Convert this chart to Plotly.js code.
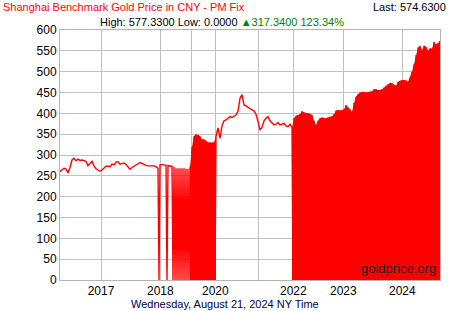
<!DOCTYPE html>
<html>
<head>
<meta charset="utf-8">
<script src="https://cdn.plot.ly/plotly-3.0.1.min.js"></script>
<style>html,body{margin:0;padding:0;background:#fff;}#chart{width:450px;height:311px;}</style>
</head>
<body>
<div id="chart"></div>
<script>
// Daily PM fix prices (CNY/gram), sampled evenly along the chart's point sequence
const prices = [
260,265,268,266,257,270,288,292,286,290,287,288,287,285,274,280,285,274,267,264,
261,264,268,273,273,272,278,276,283,284,278,280,281,277,270,266,270,273,274,278,
282,280,277,275,274,274,274,274,272,268,277,277,276,275,275,273,273,272,268,268,
268,268,268,267,267,272,320,345,350,348,345,338,337,334,330,330,330,330,345,365,
340,370,382,384,388,392,390,394,396,405,436,445,420,418,414,412,408,406,398,380,
360,366,382,388,392,382,378,372,374,378,372,374,376,370,368,374,366,388,394,396,
398,405,402,400,401,399,396,382,372,382,388,390,389,388,390,392,393,398,407,408,
407,408,410,420,414,410,404,425,440,446,450,451,452,450,451,452,453,458,458,456,
456,458,462,467,470,473,472,468,466,476,478,480,480,479,476,486,500,518,540,558,
562,552,562,560,550,556,555,572,566,568,574
];
// Spans of sample positions after which a 0.0000 fix was recorded
const zeroSpans = [[49,49],[53,53],[56,57],[58,58],[59,59],[60,60],[61,62],[63,64],[65,77],[116,189]];
// Year tick positions along the point sequence
const tickPos = [20.5,50.15,65.85,77.65,99.15,116.65,141.65,171.15];
const tickText = ['2017','2018','','2020','','2022','2023','2024'];

const titleText = 'Shanghai Benchmark Gold Price in CNY - PM Fix';
const lastText = 'Last: 574.6300';
const high = '577.3300', low = '0.0000', change = '317.3400', pct = '123.34%';
const dateText = 'Wednesday, August 21, 2024 NY Time';

const zeroSet = new Set();
zeroSpans.forEach(([a,b]) => { for (let k=a;k<=b;k++) zeroSet.add(k); });
const xs = [], ys = [];
prices.forEach((v,i) => {
  xs.push(i); ys.push(v);
  if (zeroSet.has(i)) { xs.push(i+0.5); ys.push(0); }
});

// Runs of consecutive zero readings appear as solid red areas down to 0
const fillTraces = zeroSpans.filter(([a,b]) => b - a >= 3).map(([a,b]) => {
  const fx = [], fy = [];
  for (let k=a;k<=b+1 && k<prices.length;k++) { fx.push(k); fy.push(prices[k]); }
  return {x: fx, y: fy, type: 'scatter', mode: 'lines', fill: 'tozeroy',
    fillcolor: '#ff0000', line: {color: '#ff0000', width: 0}, hoverinfo: 'skip'};
});

const F = 'Liberation Sans';
const trace = {x: xs, y: ys, type: 'scatter', mode: 'lines',
  line: {color: '#ff0000', width: 1.4}, hoverinfo: 'skip'};

const layout = {
  width: 450, height: 311,
  margin: {l: 60, r: 10, t: 30, b: 31, pad: 0},
  paper_bgcolor: '#ffffff', plot_bgcolor: '#ffffff',
  showlegend: false,
  font: {family: F, size: 11, color: '#000'},
  xaxis: {range: [0, prices.length-1], tickmode: 'array', tickvals: tickPos, ticktext: tickText,
    showgrid: true, gridcolor: '#c0c0c0', gridwidth: 1, zeroline: false,
    showline: true, mirror: true, linecolor: '#b4b4b4', linewidth: 1,
    ticks: '', tickfont: {family: F, size: 12, color: '#000'}, fixedrange: true},
  yaxis: {range: [0, 600], dtick: 50, tick0: 0,
    showgrid: true, gridcolor: '#c0c0c0', gridwidth: 1, zeroline: false,
    showline: true, mirror: true, linecolor: '#b4b4b4', linewidth: 1,
    ticks: '', ticklabelstandoff: 0, tickfont: {family: F, size: 12, color: '#000'}, fixedrange: true},
  annotations: [
    {text: titleText, xref: 'paper', yref: 'paper', x: -60/380, y: 1+30/250, xanchor: 'left', yanchor: 'top',
      xshift: 1, yshift: 1, showarrow: false, font: {family: F, size: 11, color: '#ff0000'}},
    {text: lastText, xref: 'paper', yref: 'paper', x: 1+8/380, y: 1+30/250, xanchor: 'right', yanchor: 'top',
      yshift: 1, showarrow: false, font: {family: F, size: 11, color: '#000'}},
    {text: 'High: ' + high + ' Low: ' + low + ' <span style="color:#008000">\u25B2' + change + ' ' + pct + '</span>',
      xref: 'paper', yref: 'paper', x: 38/380, y: 1+15/250, xanchor: 'left', yanchor: 'top',
      yshift: 1, showarrow: false, font: {family: F, size: 11, color: '#000'}},
    {text: dateText, xref: 'paper', yref: 'paper', x: (225-60)/380, y: -24/250, xanchor: 'center', yanchor: 'middle',
      showarrow: false, font: {family: F, size: 11, color: '#00004d'}},
    {text: 'goldprice.org', xref: 'paper', yref: 'paper', x: 1-2/380, y: 2/250, xanchor: 'right', yanchor: 'bottom',
      showarrow: false, font: {family: F, size: 13, color: '#222'}}
  ]
};
Plotly.newPlot('chart', fillTraces.concat([trace]), layout, {staticPlot: true, displayModeBar: false});
</script>
</body>
</html>
